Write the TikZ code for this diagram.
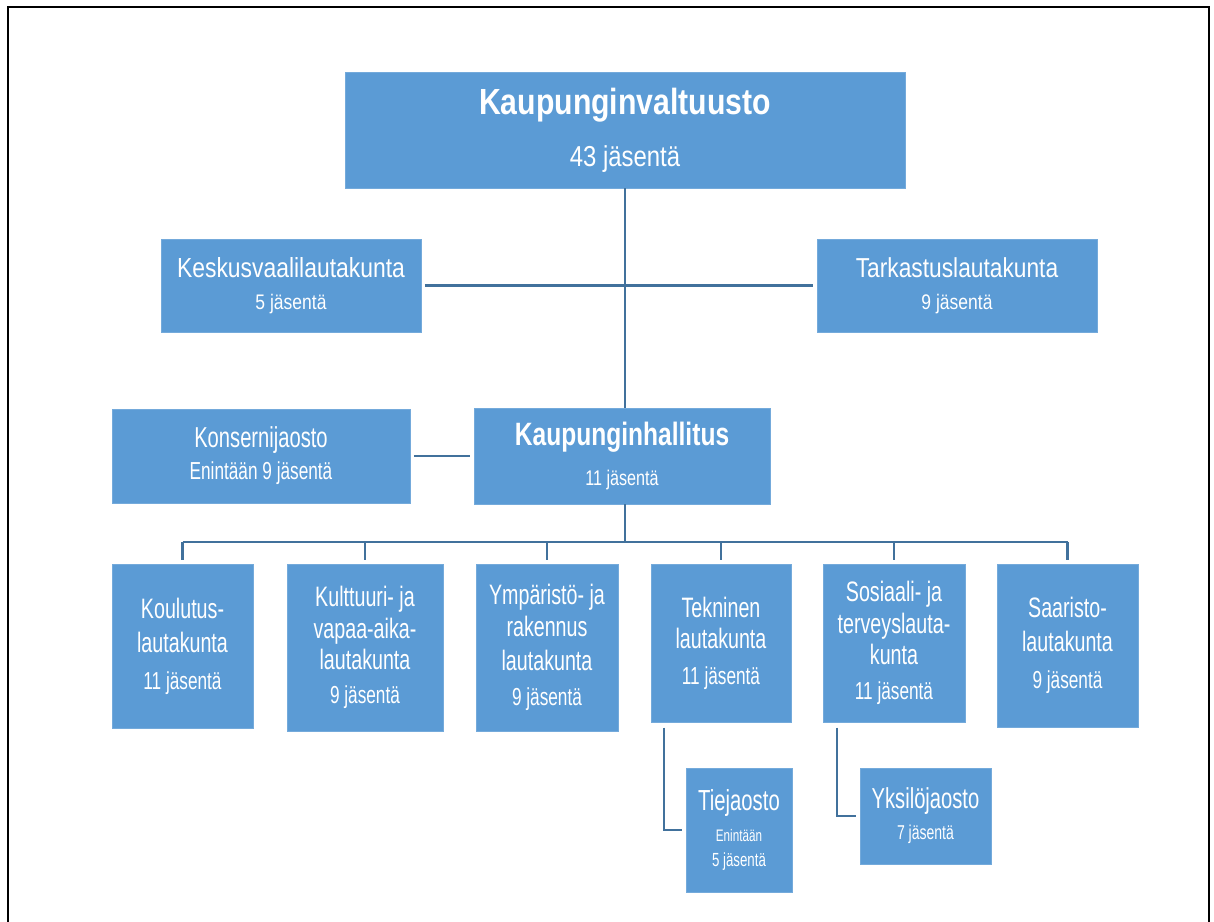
\documentclass[tikz,border=0pt]{standalone}
\usepackage{fontspec}
\setmainfont{Liberation Sans}[FakeStretch=0.83]
\newfontfamily\boardfont{Liberation Sans}[FakeStretch=0.7]
\newfontfamily\headfont{Liberation Sans}[FakeStretch=0.76]
\usepackage{xcolor}
\usetikzlibrary{calc}
\definecolor{boxblue}{HTML}{5B9BD5}
\definecolor{linkblue}{HTML}{41719C}

\begin{document}
\begin{tikzpicture}[
    x=0.02cm, y=-0.02cm,
    box/.style={rectangle, fill=boxblue, draw=boxblue!85!white, text=white, align=center, inner sep=0pt},
    boxsize/.style 2 args={minimum width=#1*0.02cm, minimum height=#2*0.02cm},
    board/.style={box, font=\boardfont\fontsize{16}{18}\selectfont},
    link/.style={draw=linkblue, line width=1.2pt},
    trunk/.style={draw=linkblue, line width=1.6pt}
]
    \useasboundingbox (0,0) rectangle (1214,922);
    \draw[line width=1.1pt] (8,930) -- (8,7) -- (1209,7) -- (1209,930);

    % Council and its boards
    \node[box, boxsize={560}{116}, font=\fontsize{16.4}{29.5}\selectfont] (valtuusto) at (625,130)
        {{\fontsize{20.7}{25}\bfseries\selectfont Kaupunginvaltuusto}\\43 jäsentä};
    \node[box, boxsize={260}{93}, font=\fontsize{12}{18.2}\selectfont] (vaali) at (291,285.5)
        {{\fontsize{15.7}{18}\selectfont Keskusvaalilautakunta}\\5 jäsentä};
    \node[box, boxsize={280}{93}, font=\fontsize{12}{18.2}\selectfont] (tarkastus) at (957,285.5)
        {{\fontsize{15.6}{18}\selectfont Tarkastuslautakunta}\\9 jäsentä};

    % Executive
    \node[box, boxsize={296}{96}, font=\headfont\fontsize{12.1}{22.7}\selectfont] (hallitus) at (622,456)
        {{\fontsize{18.4}{20}\bfseries\selectfont Kaupunginhallitus}\\11 jäsentä};
    \node[box, boxsize={298}{94}, font=\boardfont\fontsize{14}{18.2}\selectfont] (konserni) at (261,456)
        {{\fontsize{16.4}{18}\selectfont Konsernijaosto}\\Enintään 9 jäsentä};

    % Boards
    \node[board, boxsize={141}{164}] (koulutus) at (182.5,646)
        {Koulutus-\\[1.5pt]lautakunta\\[3pt]{\fontsize{14}{18}\selectfont 11 jäsentä}};
    \node[board, boxsize={156}{167}] (kulttuuri) at (365,647.5)
        {Kulttuuri- ja\\vapaa-aika-\\lautakunta\\[1.5pt]{\fontsize{14}{18}\selectfont 9 jäsentä}};
    \node[board, boxsize={142}{167}] (ymparisto) at (547,647.5)
        {Ympäristö- ja\\rakennus\\[1.5pt]lautakunta\\[2pt]{\fontsize{14}{18}\selectfont 9 jäsentä}};
    \node[board, boxsize={140}{158}] (tekninen) at (721,643)
        {Tekninen\\lautakunta\\[2pt]{\fontsize{14}{18}\selectfont 11 jäsentä}};
    \node[board, boxsize={142}{158}] (sosiaali) at (894,643)
        {Sosiaali- ja\\terveyslauta-\\kunta\\[2pt]{\fontsize{14}{18}\selectfont 11 jäsentä}};
    \node[board, boxsize={141}{163}] (saaristo) at (1067.5,645.5)
        {Saaristo-\\[1.5pt]lautakunta\\[3pt]{\fontsize{14}{18}\selectfont 9 jäsentä}};

    % Sections
    \node[box, boxsize={106}{124}, font=\boardfont\fontsize{9.5}{14}\selectfont] (tiejaosto) at (739,830)
        {{\fontsize{16.5}{17}\selectfont Tiejaosto}\\[3.5pt]Enintään\\{\fontsize{10.8}{14}\selectfont 5 jäsentä}};
    \node[box, boxsize={131}{96}, font=\boardfont\fontsize{11.4}{17.5}\selectfont] (yksilo) at (925.5,816)
        {{\fontsize{16.4}{17}\selectfont Yksilöjaosto}\\7 jäsentä};

    % Connections
    \coordinate (bus) at (625,542);
    \draw[trunk] (valtuusto.south) -- (valtuusto.south |- hallitus.north);
    \draw[link, shorten <=2pt, shorten >=2pt] (vaali.east) -- (tarkastus.west);
    \draw[link, shorten <=2pt, shorten >=2pt] (konserni.east) -- (hallitus.west);
    \draw[trunk] (hallitus.south -| bus) -- (bus);
    \draw[link] (koulutus.north |- bus) -- (saaristo.north |- bus);
    \foreach \n in {koulutus,kulttuuri,ymparisto,tekninen,sosiaali,saaristo}
        \draw[link, shorten >=2pt] (\n.north |- bus) -- (\n.north);
    \draw[link, shorten <=3pt, shorten >=2pt] ($(tekninen.south west)+(13,0)$) |- (tiejaosto.west);
    \draw[link, shorten <=3pt, shorten >=2pt] ($(sosiaali.south west)+(14,0)$) |- (yksilo.west);
\end{tikzpicture}
\end{document}
